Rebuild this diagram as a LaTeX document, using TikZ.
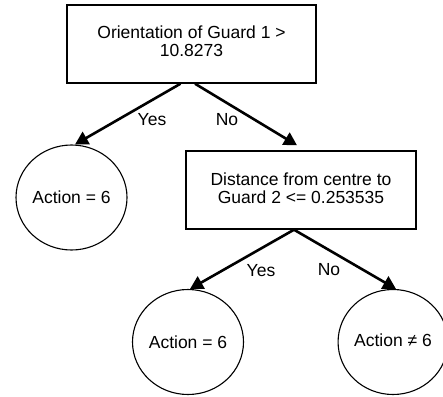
\documentclass[tikz,border=0pt]{standalone}
\usepackage{fontspec}
\setmainfont{Liberation Sans}
\usetikzlibrary{arrows.meta,calc,shapes.geometric}
\begin{document}
\begin{tikzpicture}[x=1pt,y=-1pt,
  boxnode/.style={draw,line width=1.4pt,minimum width=249pt,minimum height=78pt,align=center,inner sep=0pt,font=\fontsize{17.5}{20}\selectfont},
  leaf/.style={draw,ellipse,line width=1.1pt,minimum width=111pt,minimum height=105pt,inner sep=0pt,font=\fontsize{17.5}{20}\selectfont},
  edge/.style={line width=2.6pt,-{Triangle[length=13pt,width=14pt]}},
  lbl/.style={font=\fontsize{17.5}{20}\selectfont,inner sep=0pt}]
\useasboundingbox (0,0) rectangle (443,396);
\node[boxnode,text depth=0pt] (top) at (191.5,44) {\raisebox{16pt}{\begin{tabular}{c}Orientation of Guard 1 \textgreater\\[-2pt]10.8273\end{tabular}}};
\node[leaf] (a1) at (71.5,197.5) {Action = 6};
\node[boxnode,minimum width=230pt] (q2) at (301,190) {\begin{tabular}{c}Distance from centre to\\[-2pt]Guard 2 \textless= 0.253535\end{tabular}};
\node[leaf] (a2) at (188,342) {Action = 6};
\node[leaf,minimum width=108pt] (a3) at (393,342) {\raisebox{3pt}{Action ≠ 6}};
\draw[edge] ($(top.south)+(-11,0)$) -- ($(a1.north)+(3.5,0)$);
\draw[edge] ($(top.south)+(3.5,0)$) -- ($(q2.north)+(-4,-5)$);
\draw[edge] ($(q2.south)+(-7,0)$) -- ($(a2.north)+(2,0)$);
\draw[edge] ($(q2.south)+(-7,0)$) -- ($(a3.north)+(3,0)$);
\node[lbl] (y1) at (152,120) {Yes};
\node[lbl] (n1) at (227,120) {No};
\node[lbl] (y2) at (261,271) {Yes};
\node[lbl] (n2) at (329,270) {No};
\end{tikzpicture}
\end{document}
